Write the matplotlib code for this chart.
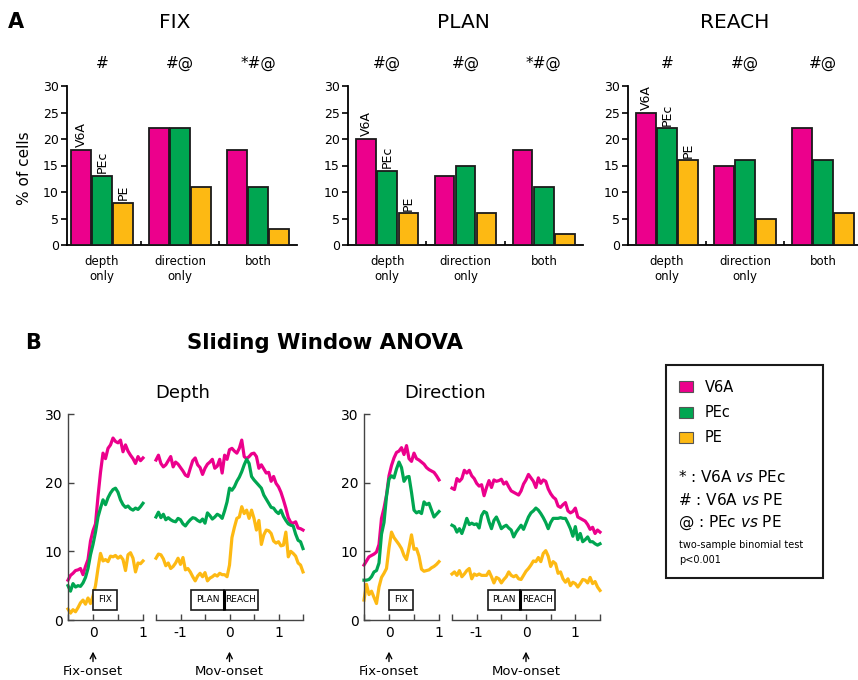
import numpy as np
import matplotlib
matplotlib.use("Agg")
import matplotlib.pyplot as plt
from matplotlib.patches import Rectangle
from matplotlib.transforms import blended_transform_factory

# --- panel A: percentage of tuned cells per epoch ---
epochs = ["FIX", "PLAN", "REACH"]
categories = ["depth\nonly", "direction\nonly", "both"]
areas = ["V6A", "PEc", "PE"]

fix_v6a = [18, 22, 18]
fix_pec = [13, 22, 11]
fix_pe = [8, 11, 3]
plan_v6a = [20, 13, 18]
plan_pec = [14, 15, 11]
plan_pe = [6, 6, 2]
reach_v6a = [25, 15, 22]
reach_pec = [22, 16, 16]
reach_pe = [16, 5, 6]

fix_sig = ["#", "#@", "*#@"]
plan_sig = ["#@", "#@", "*#@"]
reach_sig = ["#", "#@", "#@"]

# --- panel B: sliding window ANOVA, % of significant cells ---
t_fix = np.round(np.arange(-0.5, 1.0001, 0.05), 2)
t_mov = np.round(np.arange(-1.5, 1.5001, 0.05), 2)

depth_fix_v6a = [5.8, 6.5, 6.8, 7.2, 7.3, 7.5, 6.6, 7.8, 8.8, 11.5,
                 13.0, 14.0, 18.0, 21.5, 24.3, 23.5, 25.0, 25.5, 26.5, 26.0,
                 25.8, 26.2, 24.5, 25.5, 24.6, 24.0, 23.5, 22.8, 23.8, 23.2, 23.6]
depth_fix_pec = [5.0, 4.2, 5.3, 4.8, 5.0, 4.9, 5.4, 6.2, 7.5, 9.5,
                 11.0, 12.8, 15.0, 16.3, 17.5, 16.8, 17.8, 18.5, 19.0, 19.2,
                 18.6, 17.5, 16.8, 16.4, 16.6, 16.2, 16.0, 16.3, 16.1, 16.5, 17.0]
depth_fix_pe = [1.6, 1.0, 1.5, 1.2, 1.8, 2.5, 2.9, 2.3, 3.2, 2.4,
                3.5, 5.0, 7.5, 9.7, 8.6, 8.8, 8.5, 9.3, 9.2, 9.4,
                9.0, 9.3, 8.8, 7.2, 9.5, 9.8, 9.0, 7.0, 8.3, 8.2, 8.6]

depth_mov_v6a = [23.3, 24.0, 22.8, 22.3, 22.6, 23.2, 23.8, 22.3, 23.0, 22.7,
                 22.2, 21.7, 21.1, 20.9, 22.1, 23.2, 23.6, 22.6, 22.2, 21.2,
                 22.1, 22.7, 23.0, 23.4, 22.1, 22.4, 23.4, 21.4, 24.0, 23.4,
                 24.8, 25.0, 24.6, 24.3, 25.0, 26.2, 23.8, 23.5, 23.8, 24.2,
                 24.3, 23.8, 22.1, 22.6, 22.0, 21.4, 21.5, 20.2, 20.9, 19.9,
                 19.4, 18.6, 17.5, 16.3, 14.9, 14.2, 14.1, 14.3, 13.4, 13.3,
                 13.1]
depth_mov_pec = [15.0, 15.7, 14.9, 15.4, 14.6, 14.9, 14.6, 14.4, 14.3, 14.8,
                 14.6, 14.0, 13.7, 14.2, 14.6, 14.9, 14.8, 14.5, 14.3, 14.7,
                 14.1, 15.6, 15.2, 14.7, 15.0, 15.4, 15.2, 14.8, 15.9, 17.2,
                 19.2, 18.9, 19.4, 20.2, 20.8, 21.6, 22.6, 23.4, 22.8, 20.9,
                 20.4, 20.0, 19.6, 19.2, 18.2, 17.6, 17.0, 16.4, 16.3, 15.8,
                 15.5, 16.0, 15.1, 14.5, 14.0, 13.8, 13.7, 12.5, 11.6, 11.4,
                 10.4]
depth_mov_pe = [9.0, 9.6, 9.5, 8.9, 7.9, 8.3, 7.5, 7.8, 8.3, 9.0,
                8.1, 9.1, 7.3, 7.5, 7.0, 6.3, 5.7, 6.4, 6.8, 6.3,
                6.9, 5.7, 6.1, 6.3, 6.6, 6.4, 6.8, 6.6, 6.6, 6.3,
                8.0, 12.0, 13.5, 14.8, 15.0, 16.5, 15.5, 16.0, 14.8, 16.0,
                14.8, 13.1, 14.5, 11.0, 12.4, 13.1, 13.0, 12.6, 11.5, 11.2,
                11.4, 10.8, 10.9, 12.8, 9.2, 10.0, 9.7, 9.3, 8.3, 8.0,
                7.0]

dir_fix_v6a = [8.0, 8.6, 9.2, 9.4, 9.6, 9.9, 11.0, 14.8, 16.3, 18.2,
               21.0, 22.5, 23.6, 24.4, 24.6, 25.1, 24.1, 25.4, 23.5, 23.1,
               24.3, 23.5, 23.3, 23.0, 22.7, 22.2, 21.9, 21.7, 21.5, 21.0, 20.4]
dir_fix_pec = [5.8, 5.8, 5.9, 6.3, 7.0, 7.2, 8.3, 12.5, 14.2, 18.0,
               20.5, 21.0, 20.7, 22.0, 23.0, 22.2, 20.2, 20.8, 20.9, 18.6,
               16.0, 15.6, 15.8, 15.5, 17.2, 16.8, 17.0, 16.0, 15.0, 15.4, 15.8]
dir_fix_pe = [2.9, 5.2, 3.7, 4.2, 3.3, 2.4, 4.8, 6.2, 6.8, 7.5,
              10.5, 12.8, 12.0, 11.5, 11.0, 10.4, 9.4, 8.8, 10.5, 12.4,
              10.3, 10.4, 9.3, 7.4, 7.1, 7.2, 7.3, 7.6, 7.8, 8.1, 8.5]

dir_mov_v6a = [19.2, 19.0, 20.6, 20.2, 20.6, 21.8, 21.4, 21.8, 21.0, 20.6,
               19.9, 19.5, 19.7, 18.1, 19.3, 20.3, 19.3, 20.4, 20.2, 20.3,
               20.5, 19.8, 20.1, 19.4, 18.8, 18.6, 18.4, 18.2, 18.8, 19.8,
               20.4, 21.2, 20.7, 20.2, 19.3, 20.7, 19.9, 20.4, 20.2, 19.1,
               18.4, 17.9, 17.6, 16.6, 16.4, 16.8, 17.1, 15.9, 15.6, 15.8,
               16.3, 15.0, 14.8, 14.6, 14.4, 13.9, 13.2, 13.5, 12.6, 13.1,
               12.8]
dir_mov_pec = [13.8, 13.6, 12.8, 13.3, 12.6, 13.6, 14.8, 13.9, 14.1, 13.9,
               14.0, 13.4, 15.2, 15.8, 15.6, 14.3, 13.3, 14.5, 15.0, 14.2,
               13.3, 13.6, 13.8, 13.4, 13.1, 12.1, 12.8, 13.3, 13.8, 13.2,
               14.1, 15.0, 15.6, 15.9, 16.3, 16.0, 15.5, 14.9, 14.2, 13.3,
               14.2, 14.8, 14.8, 14.8, 14.9, 14.8, 14.8, 14.1, 13.3, 12.2,
               13.6, 11.7, 12.6, 11.4, 11.7, 12.1, 11.4, 11.4, 11.1, 10.9,
               11.1]
dir_mov_pe = [6.7, 7.0, 6.5, 7.2, 6.3, 6.7, 7.2, 7.5, 6.0, 6.7,
              6.5, 6.7, 6.5, 6.5, 6.5, 7.1, 6.3, 5.4, 6.2, 6.0,
              5.4, 5.9, 6.3, 7.0, 6.5, 6.3, 6.5, 6.0, 5.9, 6.5,
              7.1, 7.5, 8.0, 8.6, 8.5, 9.1, 8.5, 9.7, 10.1, 9.3,
              7.8, 8.5, 8.2, 6.8, 7.0, 6.0, 5.5, 6.0, 5.0, 5.5,
              5.3, 4.8, 5.3, 5.9, 5.8, 5.4, 6.2, 5.3, 5.6, 4.8,
              4.3]

colors = ["#ec008c", "#00a651", "#fdb913"]

W, H = 858, 680
fig = plt.figure(figsize=(W / 100, H / 100), dpi=100)
fig.patch.set_facecolor("white")


def fx(x):
    return x / W


def fy(y):
    return 1 - y / H


def px_axes(x0, y0, x1, y1):
    """axes placed by pixel box (top-left origin)"""
    return fig.add_axes([fx(x0), fy(y1), (x1 - x0) / W, (y1 - y0) / H])


# ---------------- panel A ----------------
fig.text(fx(8), fy(22), "A", fontsize=15, fontweight="bold", va="center", ha="left")
fig.text(fx(25), fy(168), "% of cells", rotation=90, fontsize=11, ha="center", va="center")

bar_data = [
    (fix_v6a, fix_pec, fix_pe, fix_sig),
    (plan_v6a, plan_pec, plan_pe, plan_sig),
    (reach_v6a, reach_pec, reach_pe, reach_sig),
]
a_lefts = [67, 348, 628]
a_rights = [297, 583, 858]
a_xlims = [(-0.45, 2.5), (-0.5, 2.5), (-0.5, 2.45)]
title_x = [175, 463, 735]
bw = 0.25
offsets = [-0.27, 0.0, 0.27]
groups = np.arange(len(categories))

for k, (v6a, pec, pe, sig) in enumerate(bar_data):
    ax = px_axes(a_lefts[k], 86, a_rights[k], 245)
    for vals, off, col in zip((v6a, pec, pe), offsets, colors):
        ax.bar(groups + off, vals, width=bw, color=col, edgecolor="#1a1a1a", linewidth=1.3, zorder=3)
    # area names above the first group
    for vals, off, name in zip((v6a, pec, pe), offsets, areas):
        ax.text(off, vals[0] + 0.5, name, rotation=90, ha="center", va="bottom", fontsize=9)
    for g, s in zip(groups, sig):
        ax.text(g, 34.2, s, ha="center", va="center", fontsize=11, clip_on=False)
    ax.set_xlim(*a_xlims[k])
    ax.set_ylim(0, 30)
    ax.set_yticks(range(0, 31, 5))
    ax.set_xticks(groups)
    ax.set_xticklabels(categories, fontsize=8.5, linespacing=1.25)
    ax.set_xticks([0.5, 1.5], minor=True)
    ax.tick_params(axis="x", which="major", length=0, pad=7)
    ax.tick_params(axis="x", which="minor", direction="in", length=3, width=1.2)
    ax.tick_params(axis="y", direction="out", length=4, width=1.2, labelsize=9, pad=2)
    for side in ("top", "right"):
        ax.spines[side].set_visible(False)
    for side in ("left", "bottom"):
        ax.spines[side].set_linewidth(1.3)
    fig.text(fx(title_x[k]), fy(22), epochs[k], fontsize=14.5, ha="center", va="center")

# ---------------- panel B ----------------
fig.text(fx(25), fy(343), "B", fontsize=15, fontweight="bold", va="center", ha="left")
fig.text(fx(325), fy(343), "Sliding Window ANOVA", fontsize=15.3, fontweight="bold",
         ha="center", va="center")

traces = [
    ("Depth", (depth_fix_v6a, depth_fix_pec, depth_fix_pe),
     (depth_mov_v6a, depth_mov_pec, depth_mov_pe), (68, 143), (156, 303), 183),
    ("Direction", (dir_fix_v6a, dir_fix_pec, dir_fix_pe),
     (dir_mov_v6a, dir_mov_pec, dir_mov_pe), (364, 439), (452, 600), 445),
]


def event_box(ax, x0, x1, label, y0=1.5, y1=4.4):
    ax.add_patch(Rectangle((x0, y0), x1 - x0, y1 - y0, facecolor="white",
                           edgecolor="#1a1a1a", linewidth=1.2, zorder=5))
    ax.text((x0 + x1) / 2, (y0 + y1) / 2, label, ha="center", va="center",
            fontsize=6.5, zorder=6)


def onset_marker(ax, label):
    tr = blended_transform_factory(ax.transData, ax.transAxes)
    ax.annotate("", xy=(0, -0.14), xytext=(0, -0.215), xycoords=tr, textcoords=tr,
                arrowprops=dict(arrowstyle="->", lw=1.0, color="black"),
                annotation_clip=False)
    ax.text(0, -0.25, label, transform=tr, ha="center", va="center", fontsize=9.5)


for name, fix_set, mov_set, fix_px, mov_px, tx in traces:
    axf = px_axes(fix_px[0], 414, fix_px[1], 620)
    axm = px_axes(mov_px[0], 414, mov_px[1], 620)
    for vals, col in zip(fix_set, colors):
        axf.plot(t_fix, vals, color=col, lw=2.3, solid_joinstyle="round", clip_on=False)
    for vals, col in zip(mov_set, colors):
        axm.plot(t_mov, vals, color=col, lw=2.3, solid_joinstyle="round", clip_on=False)

    axf.set_xlim(-0.5, 1.0)
    axf.set_ylim(0, 30)
    axf.set_xticks([-0.5, 0, 0.5, 1])
    axf.set_xticklabels(["", "0", "", "1"])
    axf.set_yticks([0, 10, 20, 30])
    for side in ("top", "right"):
        axf.spines[side].set_visible(False)

    axm.set_xlim(-1.5, 1.5)
    axm.set_ylim(0, 30)
    axm.set_xticks(np.arange(-1.5, 1.51, 0.5))
    axm.set_xticklabels(["", "-1", "", "0", "", "1", ""])
    axm.set_yticks([])
    for side in ("top", "right", "left"):
        axm.spines[side].set_visible(False)

    for ax in (axf, axm):
        ax.patch.set_alpha(0)
        ax.tick_params(direction="in", length=4, width=1.0, labelsize=10, pad=4, color="#444")
        for side in ("left", "bottom"):
            ax.spines[side].set_linewidth(1.0)
            ax.spines[side].set_color("#444")

    event_box(axf, 0.0, 0.48, "FIX")
    event_box(axm, -0.78, -0.12, "PLAN")
    event_box(axm, -0.12, 0.59, "REACH")
    axm.plot([-0.12, -0.12], [1.5, 4.4], color="black", lw=2.2, zorder=7, solid_capstyle="butt")

    onset_marker(axf, "Fix-onset")
    onset_marker(axm, "Mov-onset")

    fig.text(fx(tx), fy(393), name, fontsize=13, ha="center", va="center")

# legend box
fig.add_artist(Rectangle((fx(666), fy(578)), (823 - 666) / W, (578 - 365) / H,
                         transform=fig.transFigure, facecolor="none",
                         edgecolor="#1a1a1a", linewidth=1.5))
for name, col, yc in zip(areas, colors, [387, 412, 437]):
    fig.add_artist(Rectangle((fx(679), fy(yc + 5.5)), 14 / W, 11 / H,
                             transform=fig.transFigure, facecolor=col,
                             edgecolor="#555", linewidth=0.8))
    fig.text(fx(705), fy(yc + 1), name, fontsize=10.5, ha="left", va="center")

sig_lines = [("*", "V6A", "PEc", 477), ("#", "V6A", "PE", 500), ("@", "PEc", "PE", 523)]
for sym, a1, a2, yc in sig_lines:
    fig.text(fx(678), fy(yc), sym + " : " + a1 + r" $\mathit{vs}$ " + a2,
             fontsize=11, ha="left", va="center")
fig.text(fx(679), fy(545), "two-sample binomial test", fontsize=7, ha="left", va="center")
fig.text(fx(679), fy(560), "p<0.001", fontsize=7, ha="left", va="center")

fig.savefig("out.png", dpi=100, facecolor="white")
